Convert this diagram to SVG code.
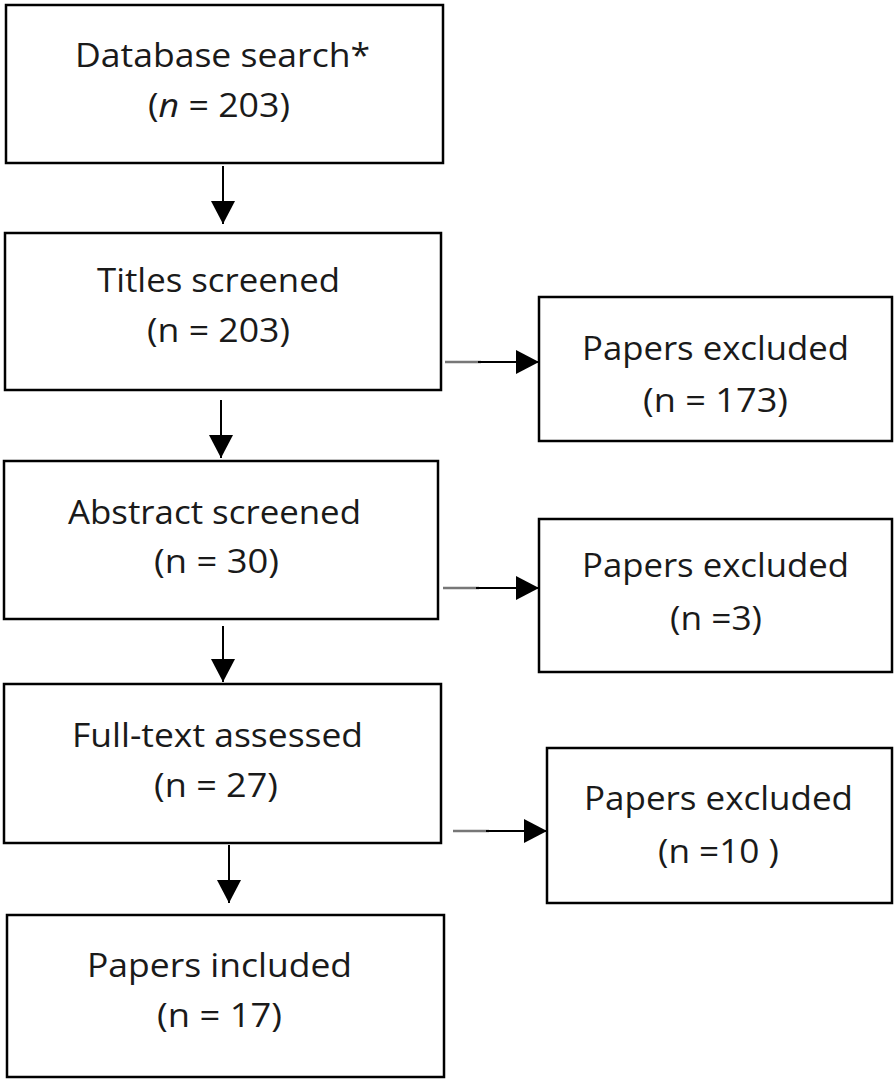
<svg xmlns="http://www.w3.org/2000/svg" width="896" height="1081" viewBox="0 0 896 1081">
<style>
.box{fill:#fff;stroke:#000;stroke-width:2.5}
.t{font-family:"Open Sans","Liberation Sans",sans-serif;font-size:32px;fill:#1a1a1a}
.ln{stroke:#000;stroke-width:2;fill:none}
.gr{stroke:#777;stroke-width:2.5;fill:none}
</style>
<defs>
<marker id="ah" markerUnits="userSpaceOnUse" markerWidth="24" markerHeight="24" refX="23" refY="12" orient="auto">
<path d="M0,0 L23,12 L0,24 z" fill="#000"/>
</marker>
</defs>
<rect width="896" height="1081" fill="#fff"/>
<g id="connectors">
<line class="ln" x1="223" y1="166" x2="223" y2="224" marker-end="url(#ah)"/>
<line class="ln" x1="221" y1="400" x2="221" y2="458" marker-end="url(#ah)"/>
<line class="ln" x1="223" y1="626" x2="223" y2="682" marker-end="url(#ah)"/>
<line class="ln" x1="229" y1="845" x2="229" y2="903" marker-end="url(#ah)"/>
<line class="gr" x1="445" y1="362" x2="481" y2="362"/>
<line class="ln" x1="478" y1="362" x2="539" y2="362" marker-end="url(#ah)"/>
<line class="gr" x1="443" y1="588" x2="479" y2="588"/>
<line class="ln" x1="476" y1="588" x2="539" y2="588" marker-end="url(#ah)"/>
<line class="gr" x1="453" y1="831" x2="489" y2="831"/>
<line class="ln" x1="486" y1="831" x2="547" y2="831" marker-end="url(#ah)"/>
</g>
<g id="database">
<rect class="box" x="6" y="5" width="437" height="158"/>
<text class="t" x="75" y="67" textLength="295" lengthAdjust="spacingAndGlyphs">Database search*</text>
<text class="t" x="148" y="117" textLength="142" lengthAdjust="spacingAndGlyphs">(<tspan font-style="italic">n</tspan> = 203)</text>
</g>
<g id="titles">
<rect class="box" x="5" y="233" width="436" height="157"/>
<text class="t" x="97" y="292" textLength="243" lengthAdjust="spacingAndGlyphs">Titles screened</text>
<text class="t" x="147" y="342" textLength="143" lengthAdjust="spacingAndGlyphs">(n = 203)</text>
</g>
<g id="excluded1">
<rect class="box" x="539" y="297" width="353" height="144"/>
<text class="t" x="582" y="360" textLength="267" lengthAdjust="spacingAndGlyphs">Papers excluded</text>
<text class="t" x="643" y="412" textLength="145" lengthAdjust="spacingAndGlyphs">(n = 173)</text>
</g>
<g id="abstract">
<rect class="box" x="4" y="461" width="434" height="158"/>
<text class="t" x="68" y="524" textLength="293" lengthAdjust="spacingAndGlyphs">Abstract screened</text>
<text class="t" x="154" y="573" textLength="125" lengthAdjust="spacingAndGlyphs">(n = 30)</text>
</g>
<g id="excluded2">
<rect class="box" x="539" y="519" width="353" height="153"/>
<text class="t" x="582" y="577" textLength="267" lengthAdjust="spacingAndGlyphs">Papers excluded</text>
<text class="t" x="670" y="630" textLength="92" lengthAdjust="spacingAndGlyphs">(n =3)</text>
</g>
<g id="fulltext">
<rect class="box" x="4" y="684" width="437" height="159"/>
<text class="t" x="72" y="747" textLength="291" lengthAdjust="spacingAndGlyphs">Full-text assessed</text>
<text class="t" x="154" y="797" textLength="124" lengthAdjust="spacingAndGlyphs">(n = 27)</text>
</g>
<g id="excluded3">
<rect class="box" x="547" y="748" width="345" height="155"/>
<text class="t" x="584" y="810" textLength="269" lengthAdjust="spacingAndGlyphs">Papers excluded</text>
<text class="t" x="658" y="863" textLength="121" lengthAdjust="spacingAndGlyphs">(n =10 )</text>
</g>
<g id="included">
<rect class="box" x="7" y="915" width="437" height="162"/>
<text class="t" x="87" y="977" textLength="265" lengthAdjust="spacingAndGlyphs">Papers included</text>
<text class="t" x="157" y="1027" textLength="125" lengthAdjust="spacingAndGlyphs">(n = 17)</text>
</g>
</svg>
